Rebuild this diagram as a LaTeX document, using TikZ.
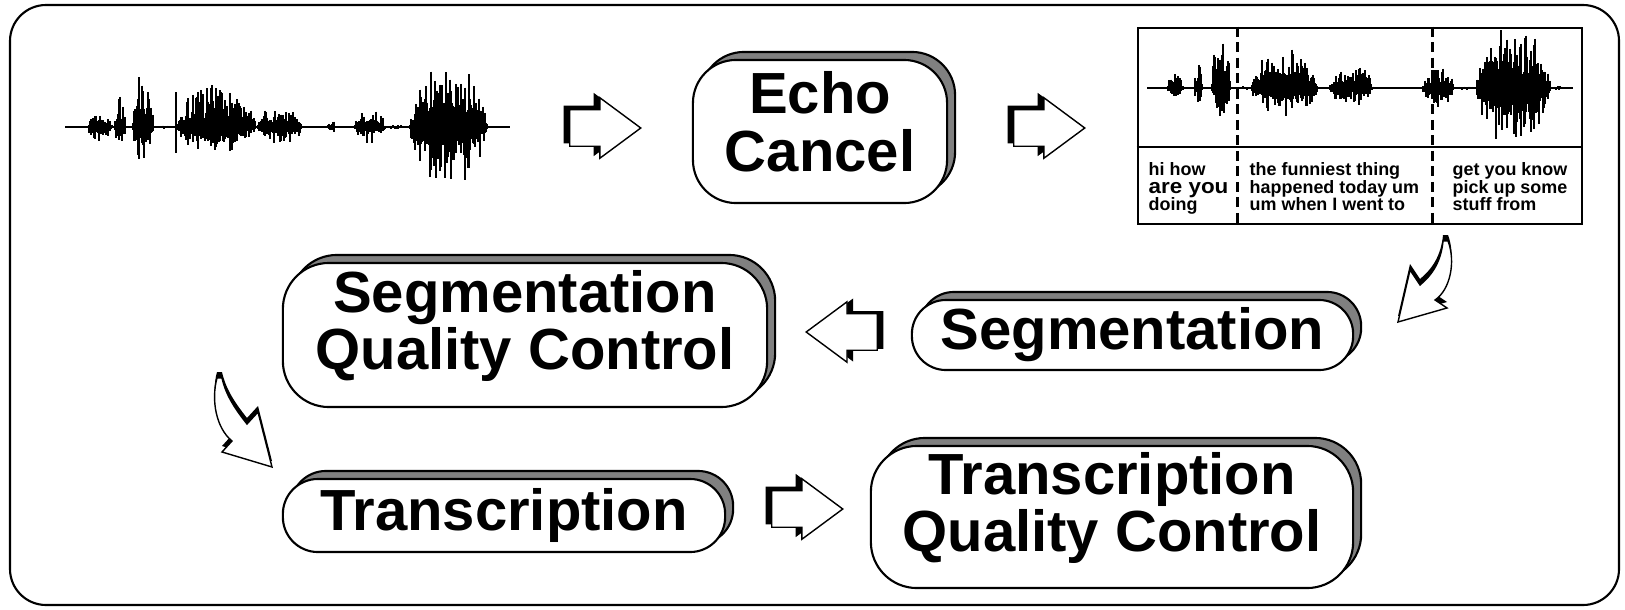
\documentclass[tikz,border=0pt]{standalone}
\usepackage{fontspec}
\setmainfont{Liberation Sans}
\usepackage{graphicx}
\usetikzlibrary{shapes.arrows,shadows}

% one burst of speech: from x, to x, height up, height down, base line
\newcommand\wavepart[5]{%
  \foreach \x in {#1,...,#2}{%
    \pgfmathsetmacro\env{pow(sin(180*(\x-#1+0.5)/(#2-#1+1)),0.5)*(0.5+0.5*abs(sin(mod(\x,360)*37)))}%
    \pgfmathsetmacro\wtop{#5-#3*\env*(0.35+0.85*pow(rnd,1.5))}%
    \pgfmathsetmacro\wbot{#5+#4*\env*(0.35+0.85*pow(rnd,1.5))}%
    \draw[wave] (\x,\wtop) -- (\x,\wbot);
  }}

\begin{document}
\begin{tikzpicture}[x=0.01cm,y=-0.01cm]
    \tikzstyle{stage}=[draw, line width=0.6pt, fill=white, inner sep=0pt, align=center,
        font=\fontsize{16.5}{16.4}\selectfont\bfseries,
        copy shadow={shadow xshift=0.8mm, shadow yshift=0.8mm, fill=gray, draw=black}]
    \tikzstyle{blockarr}=[single arrow, draw, line width=0.4pt, fill=white, inner xsep=0pt,
        inner ysep=1.75mm, minimum height=7.1mm, single arrow head extend=1.2mm,
        single arrow tip angle=73]
    \tikzstyle{wave}=[line width=0.12mm]
    \tikzstyle{cut}=[line width=0.3mm, dash pattern=on 1mm off 0.55mm]
    \tikzstyle{talk}=[anchor=north west, inner sep=0pt, align=left,
        font=\fontsize{5.1}{5.0}\selectfont\bfseries]

    \useasboundingbox (0,0) rectangle (1625,609);
    \draw[line width=0.6pt, rounded corners=3.6mm] (10,5) rectangle (1619,605);

    % raw recording
    \pgfmathsetseed{42}
    \draw[line width=0.15mm] (65,127) -- (510,127);
    \wavepart{88}{112}{16}{14}{127}
    \wavepart{115}{125}{28}{20}{127}
    \wavepart{133}{153}{47}{30}{127}
    \wavepart{160}{173}{2}{2}{127}
    \wavepart{177}{255}{38}{25}{127}
    \wavepart{258}{302}{20}{16}{127}
    \wavepart{328}{335}{8}{6}{127}
    \wavepart{355}{385}{17}{14}{127}
    \wavepart{387}{405}{2}{2}{127}
    \wavepart{410}{487}{55}{52}{127}
    \draw[line width=0.12mm] (176,92) -- (176,153);

    % stages
    \node[stage, minimum width=25.4mm, minimum height=14.3mm, rounded corners=4.3mm, text depth=2mm] (echo) at (820,131.5) {Echo\\Cancel};
    \node[stage, minimum width=44.1mm, minimum height=7mm, rounded corners=3.4mm] (seg) at (1132.5,335) {Segmentation};
    \node[stage, minimum width=48.4mm, minimum height=14.4mm, rounded corners=4.6mm, text depth=3mm] (segqc) at (525,335) {Segmentation\\Quality Control};
    \node[stage, minimum width=44.2mm, minimum height=7.3mm, rounded corners=3.5mm] (trans) at (504,515.5) {Transcription};
    \node[stage, minimum width=48.2mm, minimum height=14.2mm, rounded corners=4.6mm, text depth=3mm] (transqc) at (1112,517) {Transcription\\Quality Control};

    % segmented recording
    \node[draw, line width=0.7pt, minimum width=44.4mm, minimum height=19.6mm, inner sep=0pt] (tbox) at (1360,126) {};
    \coordinate (divy) at (0,147);
    \draw[line width=0.7pt] (tbox.west |- divy) -- (tbox.east |- divy);
    \draw[line width=0.15mm] (1147,88) -- (1573,88);
    \wavepart{1168}{1183}{15}{12}{88}
    \wavepart{1195}{1202}{28}{20}{88}
    \wavepart{1212}{1230}{45}{30}{88}
    \wavepart{1237}{1250}{2}{2}{88}
    \wavepart{1252}{1317}{37}{25}{88}
    \wavepart{1330}{1373}{20}{16}{88}
    \wavepart{1423}{1453}{20}{18}{88}
    \wavepart{1455}{1477}{2}{2}{88}
    \wavepart{1477}{1550}{53}{52}{88}
    \wavepart{1553}{1563}{2}{2}{88}
    \coordinate (cut1) at (1237,147);
    \coordinate (cut2) at (1432,147);
    \draw[cut] (cut1 |- tbox.north) -- (cut1 |- tbox.south);
    \draw[cut] (cut2 |- tbox.north) -- (cut2 |- tbox.south);
    \node[talk] (talk1) at (1148,162) {hi how\\\scalebox{1.25}[1.15]{are you}\\doing};
    \node[talk] (talk2) at (1249,162) {the funniest thing\\happened today um\\um when I went to};
    \node[talk] (talk3) at (1452,162) {get you know\\pick up some\\stuff from};

    % block arrows
    \node[blockarr, anchor=tail, copy shadow={shadow xshift=-0.55mm, shadow yshift=0.35mm, fill=black, draw=black}] (ar1) at (569,128) {};
    \node[blockarr, anchor=tail, copy shadow={shadow xshift=-0.55mm, shadow yshift=0.35mm, fill=black, draw=black}] (ar2) at (1013,128) {};
    \node[blockarr, anchor=tip, shape border rotate=180, copy shadow={shadow xshift=0.55mm, shadow yshift=0.2mm, fill=black, draw=black}] (ar3) at (805,332) {};
    \node[blockarr, anchor=tail, copy shadow={shadow xshift=-0.55mm, shadow yshift=0.35mm, fill=black, draw=black}] (ar4) at (771,509) {};

    % bent arrows
    \fill[shift={(0,-6)}] (1443,241) .. controls (1441,262) and (1432,275) .. (1420,285) -- (1410,270) -- (1398,322)
        -- (1447,308) -- (1435,300) .. controls (1450,290) and (1456,262) .. (1448,241) -- cycle;
    \draw[line width=0.4pt, fill=white] (1443,241) .. controls (1441,262) and (1432,275) .. (1420,285) -- (1410,270) -- (1398,322)
        -- (1447,308) -- (1435,300) .. controls (1450,290) and (1456,262) .. (1448,241) -- cycle;
    \fill[shift={(0,-6)}] (217,378) .. controls (211,400) and (216,428) .. (232,441) -- (222,452) -- (272,467)
        -- (258,412) -- (247,424) .. controls (236,410) and (226,396) .. (222,378) -- cycle;
    \draw[line width=0.4pt, fill=white] (217,378) .. controls (211,400) and (216,428) .. (232,441) -- (222,452) -- (272,467)
        -- (258,412) -- (247,424) .. controls (236,410) and (226,396) .. (222,378) -- cycle;
\end{tikzpicture}
\end{document}
